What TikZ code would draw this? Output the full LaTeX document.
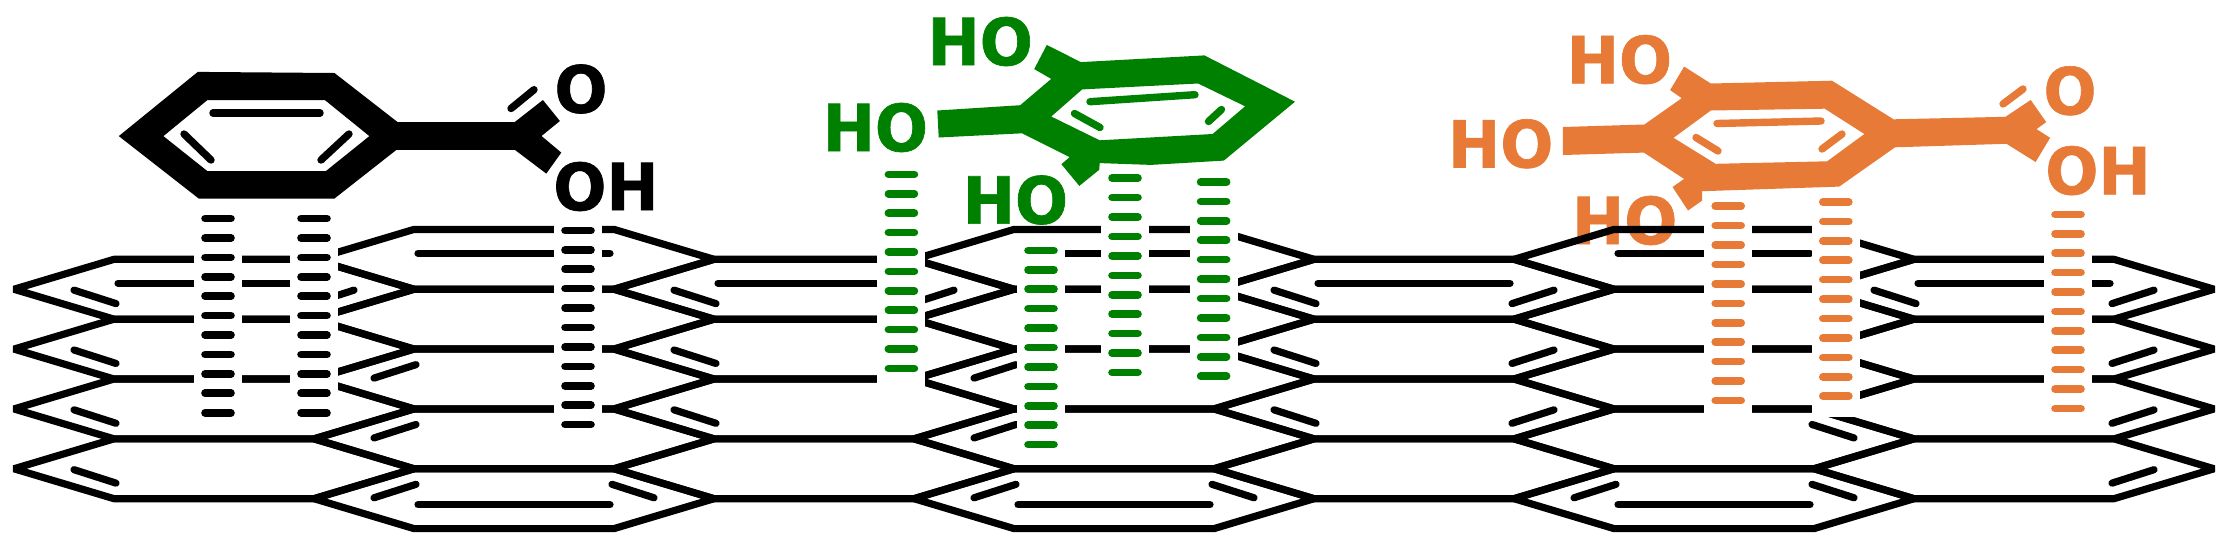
\documentclass[tikz,border=0pt]{standalone}
\usepackage{fontspec}
\setmainfont{DejaVu Sans}[BoldFeatures={FakeStretch=0.96,FakeBold=1}]
\definecolor{acidgreen}{RGB}{0,128,0}
\definecolor{acidorange}{RGB}{230,122,54}
\tikzset{
  sheet/.style={line width=7.2pt,line join=bevel},
  inbond/.style={line width=7.2pt,line cap=round},
  ringbond/.style={line width=7.4pt,line cap=round},
  hbond/.style={line width=7.6pt,line cap=round},
  atomlabel/.style={font=\fontsize{65}{65}\selectfont\bfseries,inner sep=0pt},
}
\begin{document}
\begin{tikzpicture}[x=1pt,y=-1pt]
\useasboundingbox (0,0) rectangle (2226,550);
\node[atomlabel,acidorange] (hoOrangeC) at (1624.7,220.5) {HO};
\begin{scope}[shift={(0,229.4)},y=-29.92pt]
\foreach \cx in {214,814,1414,2014}
  \foreach \k in {2,4,6,8}
    \draw[sheet] ({\cx-100},{\k-1}) -- ({\cx+100},{\k-1}) -- ({\cx+200},\k) -- ({\cx+100},{\k+1}) -- ({\cx-100},{\k+1}) -- ({\cx-200},\k) -- cycle;
\foreach \cx in {514,1114,1714}
  \foreach \k in {1,3,5,7,9}
    \draw[sheet] ({\cx-100},{\k-1}) -- ({\cx+100},{\k-1}) -- ({\cx+200},\k) -- ({\cx+100},{\k+1}) -- ({\cx-100},{\k+1}) -- ({\cx-200},\k) -- cycle;
\foreach \cx/\k in {214/2,514/1,814/2,1414/2,1714/1,2014/2}
  \draw[inbond] ({\cx-96},{\k-0.2}) -- ({\cx+96},{\k-0.2});
\draw[inbond] (1030,0.8) -- (1210,0.8);
\foreach \cx/\k in {514/9,1114/9,1714/9}
  \draw[inbond] ({\cx-96},{\k+0.2}) -- ({\cx+96},{\k+0.2});
\foreach \cx/\k in {214/2,214/4,214/6,214/8,814/2,814/4,814/6,1414/2,1414/4,1414/6,2014/2}
  \draw[inbond] ({\cx-140},{\k+0.03}) -- ({\cx-98},{\k+0.48});
\foreach \cx/\k in {214/2,814/2,1414/2,1414/4,1414/6,2014/2,2014/4,2014/6,2014/8}
  \draw[inbond] ({\cx+140},{\k+0.03}) -- ({\cx+98},{\k+0.48});
\foreach \cx/\k in {514/5,514/7,514/9,1114/5,1114/7,1114/9,1714/9}
  \draw[inbond] ({\cx-140},{\k-0.03}) -- ({\cx-98},{\k-0.48});
\foreach \cx/\k in {514/9,1114/9,1714/7,1714/9}
  \draw[inbond] ({\cx+140},{\k-0.03}) -- ({\cx+98},{\k-0.48});
\end{scope}
\foreach \px/\py/\pad/\col in {218/218.5/209/black,314/218.5/209/black,578/230.4/209/black,901.4/174.3/212/acidgreen,1041/250.4/209/acidgreen,1125/178.2/209/acidgreen,1213.6/182/209/acidgreen,1728.2/206.2/209/acidorange,1835.8/202/215/acidorange,2068/214.3/209/acidorange} {
  \fill[white] ({\px-24},{\py-14}) rectangle ({\px+24},{\py+\pad});
  \foreach \n in {0,...,10}
    \draw[hbond,\col] ({\px-13},{\py+19.42*\n}) -- ({\px+13},{\py+19.42*\n});
}
\fill[even odd rule] (118.8,136.1) -- (197.8,71.9) -- (334.5,73) -- (397.5,122) -- (514.8,122) -- (542.9,100) -- (559.9,121) -- (541.5,136) -- (561.3,152.6) -- (546.3,173.6) -- (514.8,149.8) -- (396.5,149.8) -- (334.5,198.5) -- (198.7,198.5) -- cycle
  (163.4,136.1) -- (207.5,100) -- (324.8,100) -- (369.4,136.1) -- (325.7,171.2) -- (207.5,171.2) -- cycle;
\draw[ringbond] (213,112.9) -- (320,112.9);
\draw[ringbond] (184,134) -- (211,160);
\draw[ringbond] (349,134) -- (321,160);
\draw[ringbond] (511,108.5) -- (534,89.7);
\node[atomlabel] (oxoBlack) at (581,89) {O};
\node[atomlabel] (ohBlack) at (606,186.5) {OH};
\fill[acidgreen,even odd rule] (937.3,110.5) -- (1020.2,105.2) -- (1051.2,78.9) -- (1034.2,69.1) -- (1046.8,44.9) -- (1080.8,62.1) -- (1204.4,55.4) -- (1295,101.7) -- (1223.8,160.6) -- (1151,164.9) -- (1099.7,163.1) -- (1099.2,169.8) -- (1079.3,185.9) -- (1061.4,164.2) -- (1069.6,157.1) -- (1022.1,133.3) -- (938.7,137.5) -- cycle
  (1051.2,116.5) -- (1082.2,89.4) -- (1198.1,83.5) -- (1245.1,106.3) -- (1212.6,134) -- (1099.7,140.3) -- cycle;
\draw[ringbond,acidgreen] (1090,101.7) -- (1195,94.7);
\draw[ringbond,acidgreen] (1074.5,113.5) -- (1100,127.5);
\draw[ringbond,acidgreen] (1221.5,109.5) -- (1208.5,121.5);
\node[atomlabel,acidgreen] (hoGreenA) at (980.2,41.5) {HO};
\node[atomlabel,acidgreen] (hoGreenB) at (875.3,127.5) {HO};
\node[atomlabel,acidgreen] (hoGreenC) at (1015.4,200) {HO};
\fill[acidorange,even odd rule] (1562.9,127) -- (1644.4,124.5) -- (1681.7,98.2) -- (1670.1,90.1) -- (1684.1,66.6) -- (1710.8,83.5) -- (1832,80.7) -- (1893.5,119.3) -- (2005.5,116.8) -- (2030.7,100) -- (2046.2,122.1) -- (2036.5,129.1) -- (2050.1,137.8) -- (2035.6,162) -- (2006.5,143.8) -- (1895,147.3) -- (1839.2,186.6) -- (1702.1,191.2) -- (1702.1,200.6) -- (1688,210.5) -- (1672.5,187) -- (1684.1,178.9) -- (1643.9,152.6) -- (1562.9,155) -- cycle
  (1673.5,137.8) -- (1710.8,110.5) -- (1824.7,108.7) -- (1864.4,134) -- (1827.1,161.3) -- (1715.6,163.8) -- cycle;
\draw[ringbond,acidorange] (1717,123.5) -- (1821,121);
\draw[ringbond,acidorange] (1696,137.5) -- (1718,151);
\draw[ringbond,acidorange] (1842,134) -- (1822,149);
\draw[ringbond,acidorange] (2003,104) -- (2023,89);
\node[atomlabel,acidorange] (hoOrangeA) at (1619.4,59.6) {HO};
\node[atomlabel,acidorange] (hoOrangeB) at (1500.7,143.8) {HO};
\node[atomlabel,acidorange] (oxoOrange) at (2070,90.8) {O};
\node[atomlabel,acidorange] (ohOrange) at (2098,170.6) {OH};
\end{tikzpicture}
\end{document}
